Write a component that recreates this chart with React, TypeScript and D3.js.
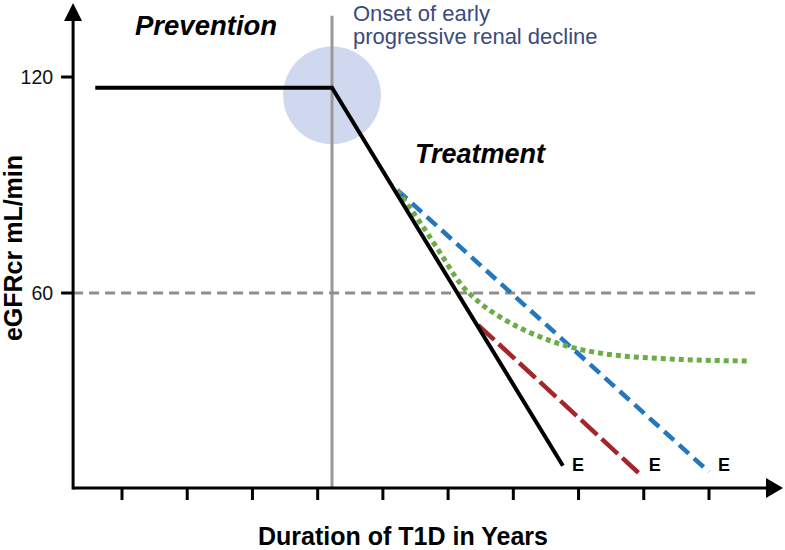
import React from "react";
import * as d3 from "d3";

// ---- data ----
const yearTicks = [1, 2, 3, 4, 5, 6, 7, 8, 9, 10];
const egfrTicks = [60, 120];
const ckdThreshold = 60;
const onsetYear = 4.22;

const baselineYears = [0.59, 4.22, 7.76];
const baselineEgfr = [117, 117, 12];

const blueYears = [5.22, 10.0];
const blueEgfr = [88.6, 10.3];

const redYears = [6.46, 8.94];
const redEgfr = [51.1, 9.7];

const greenYears = [5.22, 5.62, 5.88, 6.18, 6.49, 6.8, 7.41, 7.87, 8.33, 9.36, 10.63];
const greenEgfr = [88.6, 78.3, 71.1, 62.8, 57.2, 53.3, 47.8, 45.0, 43.3, 41.7, 41.1];

const endLabels = ["E", "E", "E"];

// ---- layout ----
const W = 785;
const H = 550;
const FONT = "'Liberation Sans', Arial, Helvetica, sans-serif";

export default function App() {
  const x = d3.scaleLinear().domain([1, 10]).range([122, 709]);
  const y = d3.scaleLinear().domain([0, 120]).range([509, 77]);

  const axisX0 = x(0.25);
  const axisY0 = y(5.83);
  const axisXEnd = 783;
  const axisYTop = 3;

  const line = d3
    .line<[number, number]>()
    .x((d) => x(d[0]))
    .y((d) => y(d[1]));
  const curve = d3
    .line<[number, number]>()
    .x((d) => x(d[0]))
    .y((d) => y(d[1]))
    .curve(d3.curveMonotoneX);

  const zip = (a: number[], b: number[]) => a.map((v, i) => [v, b[i]] as [number, number]);

  const black = zip(baselineYears, baselineEgfr);
  const blue = zip(blueYears, blueEgfr);
  const red = zip(redYears, redEgfr);
  const green = zip(greenYears, greenEgfr);

  const ox = x(onsetYear);
  const circleR = x(onsetYear + 0.75) - x(onsetYear);
  const circleCy = y(114.9);

  const ends = [black[black.length - 1], red[red.length - 1], blue[blue.length - 1]];
  const eBaseline = y(10.6);

  return (
    <div style={{ position: "absolute", left: 0, top: 0 }}>
      <svg width={W} height={H} viewBox={`0 0 ${W} ${H}`} style={{ display: "block", background: "#fff" }}>
        <rect x={0} y={0} width={W} height={H} fill="#fff" />
        {/* onset circle */}
        <circle cx={ox} cy={circleCy} r={circleR} fill="#cfd8ef" />
        {/* onset vertical line */}
        <line x1={ox} x2={ox} y1={y(137)} y2={axisY0} stroke="#999" strokeWidth={3} />
        {/* 60 reference line */}
        <line
          x1={axisX0}
          x2={x(10.77)}
          y1={y(ckdThreshold)}
          y2={y(ckdThreshold)}
          stroke="#8f8f8f"
          strokeWidth={3}
          strokeDasharray="10 6"
        />
        {/* treatment lines */}
        <path d={line(red) || ""} fill="none" stroke="#a4262b" strokeWidth={4.5} strokeDasharray="22 6" />
        <path d={line(blue) || ""} fill="none" stroke="#2377bd" strokeWidth={4.5} strokeDasharray="13 7" />
        <path d={curve(green) || ""} fill="none" stroke="#6cab46" strokeWidth={5} strokeDasharray="5 4" />
        {/* baseline decline */}
        <path d={line(black) || ""} fill="none" stroke="#000" strokeWidth={4} strokeLinejoin="miter" />

        {/* axes */}
        <line x1={axisX0} x2={axisXEnd - 14} y1={axisY0} y2={axisY0} stroke="#000" strokeWidth={3} />
        <polygon
          points={`${axisXEnd},${axisY0} ${axisXEnd - 17},${axisY0 - 10} ${axisXEnd - 17},${axisY0 + 10}`}
          fill="#000"
        />
        <line x1={axisX0} x2={axisX0} y1={axisY0 + 1.5} y2={axisYTop + 14} stroke="#000" strokeWidth={3} />
        <polygon
          points={`${axisX0},${axisYTop} ${axisX0 - 9},${axisYTop + 18} ${axisX0 + 9},${axisYTop + 18}`}
          fill="#000"
        />
        {yearTicks.map((t) => (
          <line key={`xt${t}`} x1={x(t)} x2={x(t)} y1={axisY0} y2={axisY0 + 12} stroke="#000" strokeWidth={3} />
        ))}
        {egfrTicks.map((t) => (
          <g key={`yt${t}`}>
            <line x1={axisX0 - 12} x2={axisX0} y1={y(t)} y2={y(t)} stroke="#000" strokeWidth={3} />
            <text
              x={axisX0 - 20}
              y={y(t) + 7}
              textAnchor="end"
              fontFamily={FONT}
              fontSize={19.5}
              fill="#111"
            >
              {t}
            </text>
          </g>
        ))}

        {/* end labels */}
        {ends.map((p, i) => (
          <text
            key={`e${i}`}
            x={x(p[0]) + 9}
            y={eBaseline}
            fontFamily={FONT}
            fontSize={18}
            fontWeight="bold"
            fill="#000"
          >
            {endLabels[i]}
          </text>
        ))}

        {/* annotations */}
        <text x={135} y={35} fontFamily={FONT} fontSize={27.5} fontWeight="bold" fontStyle="italic" fill="#000">
          Prevention
        </text>
        <text x={415} y={163} fontFamily={FONT} fontSize={27} fontWeight="bold" fontStyle="italic" fill="#000">
          Treatment
        </text>
        <text fontFamily={FONT} fontSize={22} fill="#3b4b7b">
          <tspan x={353} y={21}>Onset of early</tspan>
          <tspan x={353} y={44}>progressive renal decline</tspan>
        </text>

        {/* axis titles */}
        <text
          transform={`translate(22, 248) rotate(-90)`}
          textAnchor="middle"
          fontFamily={FONT}
          fontSize={25}
          fontWeight="bold"
          fill="#000"
        >
          eGFRcr mL/min
        </text>
        <text x={403} y={545} textAnchor="middle" fontFamily={FONT} fontSize={25} fontWeight="bold" fill="#000">
          Duration of T1D in Years
        </text>
      </svg>
    </div>
  );
}
